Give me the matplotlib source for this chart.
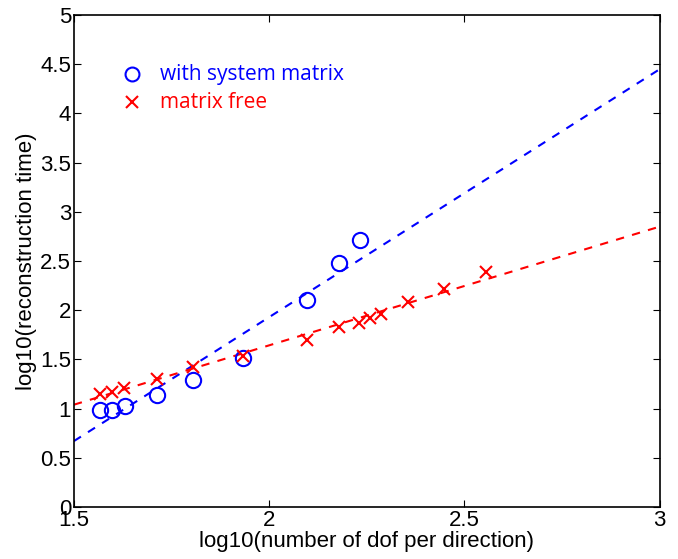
import matplotlib

matplotlib.use("Agg")
import matplotlib.pyplot as plt  # noqa: E402
import numpy as np  # noqa: E402
from matplotlib import font_manager  # noqa: E402

# log10(dof per direction) and log10(reconstruction time)
x_sys = [1.568, 1.598, 1.631, 1.713, 1.806, 1.933, 2.098, 2.179, 2.232]
y_sys = [0.99, 0.99, 1.03, 1.14, 1.29, 1.51, 2.10, 2.48, 2.71]

x_free = [1.568, 1.598, 1.629, 1.712, 1.806, 1.933, 2.098, 2.178, 2.230,
          2.258, 2.286, 2.356, 2.448, 2.554]
y_free = [1.145, 1.166, 1.21, 1.30, 1.42, 1.54, 1.70, 1.83, 1.87,
          1.92, 1.96, 2.08, 2.22, 2.39]

# dashed fit lines (value at x=1.5 and x=3)
fit_x = [1.5, 3.0]
fit_sys = [0.67, 4.45]
fit_free = [1.04, 2.85]

names = {f.name for f in font_manager.fontManager.ttflist}
narrow = [n for n in ("Liberation Sans Narrow", "DejaVu Sans Condensed") if n in names]
plt.rcParams["font.family"] = narrow + ["Liberation Sans", "DejaVu Sans"]
plt.rcParams["font.stretch"] = "condensed"

fig = plt.figure(figsize=(6.78, 5.59), dpi=100)
ax = fig.add_axes([0.109, 0.093, 0.864, 0.880])

ax.plot(fit_x, fit_sys, "--", color="#0000ff", lw=1.5, dashes=(4, 4))
ax.plot(fit_x, fit_free, "--", color="#ff0000", lw=1.5, dashes=(4, 4))
ax.plot(x_sys, y_sys, "o", mfc="none", mec="#0000ff", mew=1.5, ms=11)
ax.plot(x_free, y_free, "x", color="#ff0000", mew=1.5, ms=8)

ax.set_xlim(1.5, 3)
ax.set_ylim(0, 5)
ax.set_xticks([1.5, 2, 2.5, 3])
ax.set_xticklabels(["1.5", "2", "2.5", "3"])
ax.set_yticks(np.arange(0, 5.01, 0.5))
ax.set_yticklabels(["0", "0.5", "1", "1.5", "2", "2.5", "3", "3.5", "4", "4.5", "5"])
ax.tick_params(direction="in", top=True, right=True, labelsize=16, length=5, pad=2)
for s in ax.spines.values():
    s.set_linewidth(1.2)

ax.set_xlabel("log10(number of dof per direction)", fontsize=16, labelpad=0)
ax.set_ylabel("log10(reconstruction time)", fontsize=16, labelpad=2)

# legend drawn by hand (text in the marker colour, no box)
ax.plot([1.65], [4.4], "o", mfc="none", mec="#0000ff", mew=1.5, ms=10)
ax.plot([1.65], [4.115], "x", color="#ff0000", mew=1.5, ms=8)
ax.text(1.72, 4.4, "with system matrix", color="#0000ff", fontsize=15,
        va="center", family=["Open Sans", "DejaVu Sans"], stretch="normal")
ax.text(1.72, 4.115, "matrix free", color="#ff0000", fontsize=15,
        va="center", family=["Open Sans", "DejaVu Sans"], stretch="normal")

fig.savefig("out.png", dpi=100)
